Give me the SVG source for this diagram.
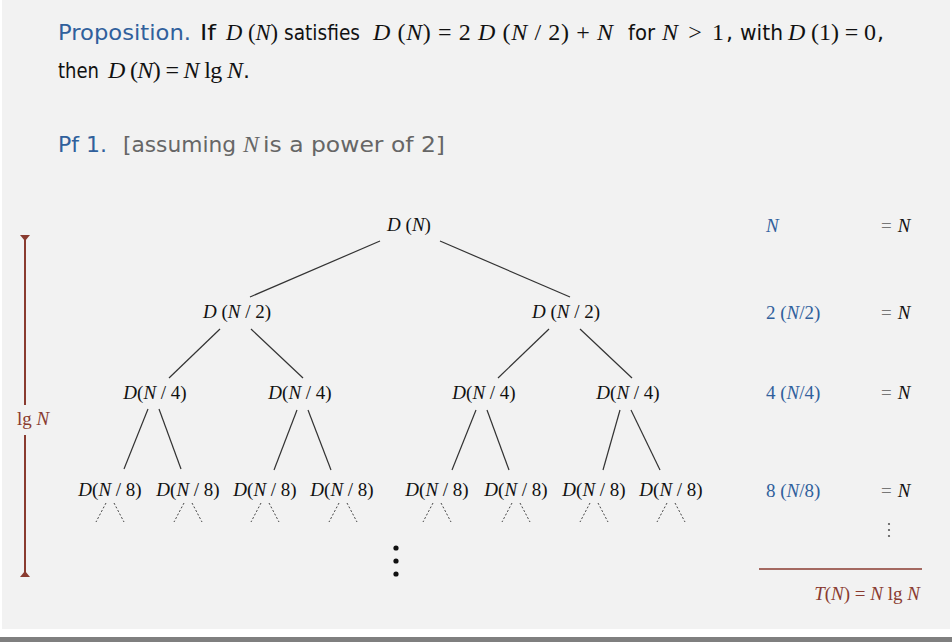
<svg xmlns="http://www.w3.org/2000/svg" width="952" height="642" viewBox="0 0 952 642">
<style>
.sans{font-family:"DejaVu Sans","Liberation Sans",sans-serif;font-size:22px;fill:#111}
.m{font-family:"Liberation Serif","Times New Roman",serif;font-size:24px;fill:#111}
.t{font-family:"Liberation Serif","Times New Roman",serif;font-size:19px;fill:#111}
.node{text-anchor:middle}
.i{font-style:italic}
.edge{stroke:#333;stroke-width:1.2;fill:none}
.dot{stroke:#444;stroke-width:1;stroke-dasharray:2 2;fill:none}
.blue{fill:#30609c}
.grey{fill:#666}
.brown{fill:#8a3b30}
</style>
<rect x="0" y="0" width="952" height="642" fill="#ffffff"/>
<rect x="2" y="0" width="948" height="629" fill="#f2f2f2"/>
<rect x="0" y="637" width="952" height="5" fill="#7f7f7f"/>

<g id="proposition">
<text class="sans blue" x="58" y="40" textLength="133" lengthAdjust="spacingAndGlyphs">Proposition.</text>
<text class="sans" x="200" y="40" textLength="16" lengthAdjust="spacingAndGlyphs">If</text>
<text class="m" x="226" y="40" textLength="52" lengthAdjust="spacingAndGlyphs"><tspan class="i">D</tspan> (<tspan class="i">N</tspan>)</text>
<text class="sans" x="284" y="40" textLength="76" lengthAdjust="spacingAndGlyphs">satisfies</text>
<text class="m" x="373" y="40" textLength="240" lengthAdjust="spacing"><tspan class="i">D</tspan> (<tspan class="i">N</tspan>) = 2 <tspan class="i">D</tspan> (<tspan class="i">N</tspan> / 2) + <tspan class="i">N</tspan></text>
<text class="sans" x="628" y="40" textLength="27" lengthAdjust="spacingAndGlyphs">for</text>
<text class="m" x="662" y="40" textLength="62" lengthAdjust="spacing"><tspan class="i">N</tspan> &gt; 1</text>
<text class="sans" x="726" y="40">,</text>
<text class="sans" x="740" y="40" textLength="43" lengthAdjust="spacingAndGlyphs">with</text>
<text class="m" x="788" y="40" textLength="88" lengthAdjust="spacing"><tspan class="i">D</tspan> (1) = 0</text>
<text class="sans" x="877" y="40">,</text>
<text class="sans" x="58" y="78" textLength="41" lengthAdjust="spacingAndGlyphs">then</text>
<text class="m" x="108" y="78" textLength="135" lengthAdjust="spacing"><tspan class="i">D</tspan> (<tspan class="i">N</tspan>) = <tspan class="i">N</tspan> lg <tspan class="i">N</tspan></text>
<text class="sans" x="243" y="78">.</text>
</g>

<g id="pf1">
<text class="sans blue" x="58" y="152" textLength="49" lengthAdjust="spacingAndGlyphs">Pf 1.</text>
<text class="sans grey" x="123" y="152" textLength="113" lengthAdjust="spacingAndGlyphs">[assuming</text>
<text class="m grey" x="243" y="152"><tspan class="i">N</tspan></text>
<text class="sans grey" x="263" y="152" textLength="182" lengthAdjust="spacingAndGlyphs">is a power of 2]</text>
</g>

<g id="connectors">
<line class="edge" x1="380" y1="241" x2="250" y2="297"/>
<line class="edge" x1="440" y1="241" x2="570" y2="297"/>
<line class="edge" x1="220" y1="329" x2="169" y2="378"/>
<line class="edge" x1="251" y1="329" x2="303" y2="378"/>
<line class="edge" x1="549" y1="329" x2="498" y2="378"/>
<line class="edge" x1="580" y1="329" x2="632" y2="378"/>
<line class="edge" x1="148" y1="409" x2="124" y2="469"/>
<line class="edge" x1="159" y1="409" x2="181" y2="469"/>
<line class="edge" x1="297" y1="410" x2="274" y2="470"/>
<line class="edge" x1="308" y1="410" x2="331" y2="470"/>
<line class="edge" x1="476" y1="410" x2="452" y2="470"/>
<line class="edge" x1="487" y1="410" x2="509" y2="470"/>
<line class="edge" x1="620" y1="410" x2="603" y2="470"/>
<line class="edge" x1="631" y1="410" x2="660" y2="470"/>
<g id="dotted">
<path class="dot" d="M106 503L96 522M114 503L124 522"/>
<path class="dot" d="M184 503L174 522M192 503L202 522"/>
<path class="dot" d="M261 503L251 522M269 503L279 522"/>
<path class="dot" d="M339 503L329 522M347 503L357 522"/>
<path class="dot" d="M433 503L423 522M441 503L451 522"/>
<path class="dot" d="M512 503L502 522M520 503L530 522"/>
<path class="dot" d="M590 503L580 522M598 503L608 522"/>
<path class="dot" d="M667 503L657 522M675 503L685 522"/>
</g>
</g>

<g id="n1"><text class="t node" x="409" y="231"><tspan class="i">D</tspan> (<tspan class="i">N</tspan>)</text></g>
<g id="n2a"><text class="t node" x="237" y="318"><tspan class="i">D</tspan> (<tspan class="i">N</tspan> / 2)</text></g>
<g id="n2b"><text class="t node" x="566" y="318"><tspan class="i">D</tspan> (<tspan class="i">N</tspan> / 2)</text></g>
<g id="n4a"><text class="t node" x="155" y="399"><tspan class="i">D</tspan>(<tspan class="i">N</tspan> / 4)</text></g>
<g id="n4b"><text class="t node" x="300" y="399"><tspan class="i">D</tspan>(<tspan class="i">N</tspan> / 4)</text></g>
<g id="n4c"><text class="t node" x="484" y="399"><tspan class="i">D</tspan>(<tspan class="i">N</tspan> / 4)</text></g>
<g id="n4d"><text class="t node" x="628" y="399"><tspan class="i">D</tspan>(<tspan class="i">N</tspan> / 4)</text></g>
<g id="n8a"><text class="t node" x="110" y="496"><tspan class="i">D</tspan>(<tspan class="i">N</tspan> / 8)</text></g>
<g id="n8b"><text class="t node" x="188" y="496"><tspan class="i">D</tspan>(<tspan class="i">N</tspan> / 8)</text></g>
<g id="n8c"><text class="t node" x="265" y="496"><tspan class="i">D</tspan>(<tspan class="i">N</tspan> / 8)</text></g>
<g id="n8d"><text class="t node" x="342" y="496"><tspan class="i">D</tspan>(<tspan class="i">N</tspan> / 8)</text></g>
<g id="n8e"><text class="t node" x="437" y="496"><tspan class="i">D</tspan>(<tspan class="i">N</tspan> / 8)</text></g>
<g id="n8f"><text class="t node" x="516" y="496"><tspan class="i">D</tspan>(<tspan class="i">N</tspan> / 8)</text></g>
<g id="n8g"><text class="t node" x="594" y="496"><tspan class="i">D</tspan>(<tspan class="i">N</tspan> / 8)</text></g>
<g id="n8h"><text class="t node" x="671" y="496"><tspan class="i">D</tspan>(<tspan class="i">N</tspan> / 8)</text></g>

<g id="vdots" fill="#111">
<circle cx="396" cy="548" r="2.6"/>
<circle cx="396" cy="561" r="2.6"/>
<circle cx="396" cy="574" r="2.6"/>
</g>

<g id="levels">
<text class="t blue" x="766" y="232"><tspan class="i">N</tspan></text>
<text class="t blue" x="766" y="319">2 (<tspan class="i">N</tspan>/2)</text>
<text class="t blue" x="766" y="399">4 (<tspan class="i">N</tspan>/4)</text>
<text class="t blue" x="766" y="497">8 (<tspan class="i">N</tspan>/8)</text>
<text class="t" x="881" y="232"><tspan fill="#777">=</tspan><tspan class="i" dx="6">N</tspan></text>
<text class="t" x="881" y="319"><tspan fill="#777">=</tspan><tspan class="i" dx="6">N</tspan></text>
<text class="t" x="881" y="399"><tspan fill="#777">=</tspan><tspan class="i" dx="6">N</tspan></text>
<text class="t" x="881" y="497"><tspan fill="#777">=</tspan><tspan class="i" dx="6">N</tspan></text>
<g fill="#555">
<circle cx="889" cy="524" r="1.1"/>
<circle cx="889" cy="530" r="1.1"/>
<circle cx="889" cy="536" r="1.1"/>
</g>
<line x1="759" y1="569" x2="922" y2="569" stroke="#8a3b30" stroke-width="1.5"/>
<text class="t brown" x="920" y="600" text-anchor="end"><tspan class="i">T</tspan>(<tspan class="i">N</tspan>) = <tspan class="i">N</tspan> lg <tspan class="i">N</tspan></text>
</g>

<g id="height">
<line x1="25" y1="237" x2="25" y2="405" stroke="#8a3b30" stroke-width="2"/>
<line x1="25" y1="435" x2="25" y2="575" stroke="#8a3b30" stroke-width="2"/>
<polygon points="20,235 30,235 25,241" fill="#8a3b30"/>
<polygon points="20,577 30,577 25,571" fill="#8a3b30"/>
<text class="t brown" x="33" y="425" text-anchor="middle" font-size="18">lg <tspan class="i">N</tspan></text>
</g>
</svg>
